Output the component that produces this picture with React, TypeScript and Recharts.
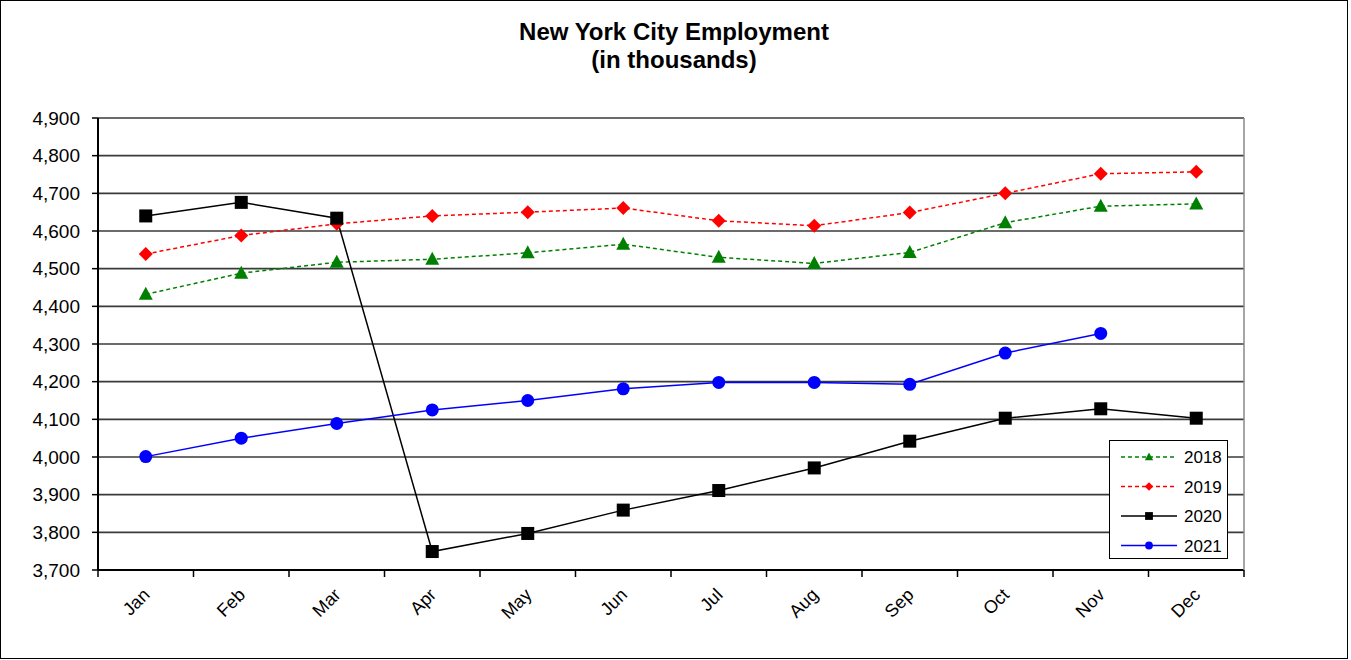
import { LineChart, Line, XAxis, YAxis, CartesianGrid } from "recharts";

const months = ["Jan", "Feb", "Mar", "Apr", "May", "Jun", "Jul", "Aug", "Sep", "Oct", "Nov", "Dec"];
const y2018 = [4432, 4488, 4517, 4525, 4542, 4565, 4530, 4514, 4543, 4622, 4666, 4672];
const y2019 = [4539, 4588, 4619, 4640, 4650, 4661, 4627, 4614, 4649, 4700, 4752, 4757];
const y2020 = [4640, 4676, 4634, 3749, 3797, 3859, 3911, 3971, 4042, 4103, 4128, 4103];
const y2021 = [4001, 4050, 4089, 4125, 4150, 4181, 4198, 4198, 4193, 4276, 4328, null];
const yTicks = [3700, 3800, 3900, 4000, 4100, 4200, 4300, 4400, 4500, 4600, 4700, 4800, 4900];

const data = months.map((m, i) => ({
  month: m,
  y2018: y2018[i],
  y2019: y2019[i],
  y2020: y2020[i],
  y2021: y2021[i],
}));

const series = [
  { key: "y2018", name: "2018", color: "#008000", dash: "4 3", shape: "triangle" },
  { key: "y2019", name: "2019", color: "#ff0000", dash: "4 3", shape: "diamond" },
  { key: "y2020", name: "2020", color: "#000000", dash: undefined, shape: "square" },
  { key: "y2021", name: "2021", color: "#0000ff", dash: undefined, shape: "circle" },
];

const W = 1346;
const H = 657;
const margin = { top: 117, right: 102, bottom: 0, left: 0 };
const Y_W = 97;
const X_H = 88;
const PLOT_W = W - margin.left - margin.right - Y_W - 1;
const HALF_BAND = PLOT_W / months.length / 2;
const FONT = "'Liberation Sans', Arial, sans-serif";

function Marker({ shape, cx, cy, color, s = 1 }: any) {
  if (cx == null || cy == null) return null;
  if (shape === "triangle")
    return <polygon points={`${cx},${cy - 7.5 * s} ${cx + 7 * s},${cy + 5.5 * s} ${cx - 7 * s},${cy + 5.5 * s}`} fill={color} />;
  if (shape === "diamond")
    return <polygon points={`${cx},${cy - 7 * s} ${cx + 7 * s},${cy} ${cx},${cy + 7 * s} ${cx - 7 * s},${cy}`} fill={color} />;
  if (shape === "square")
    return <rect x={cx - 6.5 * s} y={cy - 6.5 * s} width={13 * s} height={13 * s} fill={color} />;
  return <circle cx={cx} cy={cy} r={6.5 * s} fill={color} />;
}

function MonthTick({ x, y, payload, index }: any) {
  const last = index === months.length - 1;
  const tx = x + 5;
  const ty = y + 26;
  return (
    <g>
      <line x1={x - HALF_BAND} y1={y} x2={x - HALF_BAND} y2={y + 7} stroke="#000" strokeWidth={1.5} />
      {last && <line x1={x + HALF_BAND} y1={y} x2={x + HALF_BAND} y2={y + 7} stroke="#000" strokeWidth={1.5} />}
      <text
        x={tx}
        y={ty}
        textAnchor="end"
        transform={`rotate(-45, ${tx}, ${ty})`}
        fontSize={18}
        fontFamily={FONT}
        fill="#000"
      >
        {payload.value}
      </text>
    </g>
  );
}

export default function App() {
  return (
    <div
      style={{
        position: "absolute",
        left: 0,
        top: 0,
        width: W,
        height: H,
        border: "1px solid #000",
        background: "#fff",
        fontFamily: FONT,
      }}
    >
      <div
        style={{
          position: "absolute",
          left: 0,
          width: W,
          top: 17,
          textAlign: "center",
          fontWeight: "bold",
          fontSize: 24,
          lineHeight: "28px",
          color: "#000",
        }}
      >
        New York City Employment
        <br />
        (in thousands)
      </div>
      <LineChart width={W} height={H} data={data} margin={margin}>
        <CartesianGrid vertical={false} stroke="#3a3a3a" strokeWidth={1.6} />
        <XAxis
          dataKey="month"
          height={X_H}
          padding={{ left: HALF_BAND, right: HALF_BAND }}
          tickSize={0}
          tickMargin={0}
          tickLine={false}
          axisLine={{ stroke: "#000", strokeWidth: 2 }}
          tick={<MonthTick />}
          interval={0}
        />
        <YAxis
          domain={[3700, 4900]}
          ticks={yTicks}
          width={Y_W}
          tickSize={6}
          tickMargin={12}
          tickLine={{ stroke: "#000", strokeWidth: 1.5 }}
          axisLine={{ stroke: "#000", strokeWidth: 2 }}
          tick={{ fontSize: 19, fill: "#000", fontFamily: FONT }}
          tickFormatter={(v: number) => v.toLocaleString("en-US")}
          allowDataOverflow
        />
        <YAxis
          yAxisId="right"
          orientation="right"
          domain={[3700, 4900]}
          width={1}
          tick={false}
          tickLine={false}
          axisLine={{ stroke: "#888", strokeWidth: 1.5 }}
        />
        {series.map((s) => (
          <Line
            key={s.key}
            dataKey={s.key}
            name={s.name}
            stroke={s.color}
            strokeWidth={1.5}
            strokeDasharray={s.dash}
            isAnimationActive={false}
            dot={(p: any) => <Marker key={`${s.key}-${p.index}`} shape={s.shape} cx={p.cx} cy={p.cy} color={s.color} />}
            activeDot={false}
          />
        ))}
      </LineChart>
      <div
        style={{
          position: "absolute",
          left: 1108,
          top: 439,
          width: 117,
          height: 117,
          border: "1.5px solid #000",
          background: "#fff",
        }}
      >
        <svg width={117} height={117}>
          {series.map((s, i) => {
            const cy = 16 + i * 29.5;
            return (
              <g key={s.key}>
                <line x1={11} y1={cy} x2={67} y2={cy} stroke={s.color} strokeWidth={1.5} strokeDasharray={s.dash} />
                <Marker shape={s.shape} cx={39} cy={cy} color={s.color} s={0.6} />
                <text x={74} y={cy + 6} fontSize={17} fontFamily={FONT} fill="#000">
                  {s.name}
                </text>
              </g>
            );
          })}
        </svg>
      </div>
    </div>
  );
}
